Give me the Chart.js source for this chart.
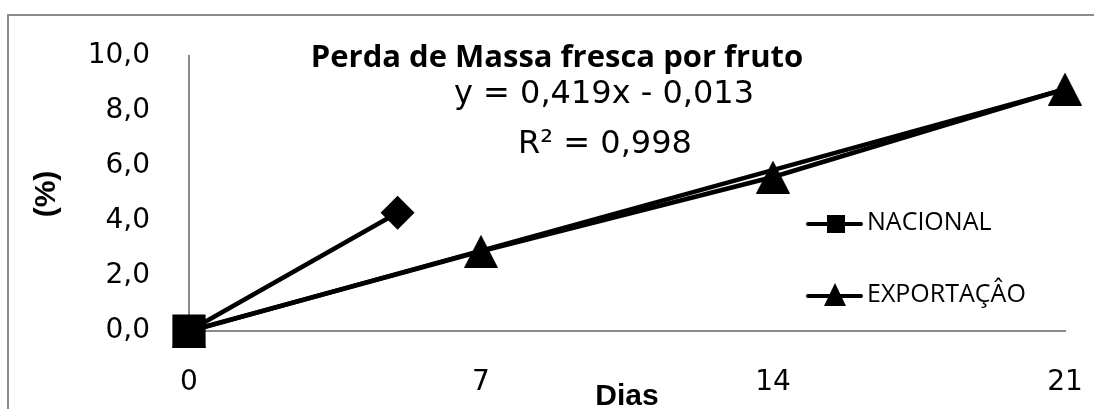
<!DOCTYPE html>
<html>
<head>
<meta charset="utf-8">
<script src="https://cdn.jsdelivr.net/npm/chart.js@4/dist/chart.umd.min.js"></script>
<style>
  html, body { margin: 0; padding: 0; background: #fff; overflow: hidden; }
  #wrap { position: relative; width: 1094px; height: 409px; }
  #frame { position: absolute; left: 7px; top: 14px; width: 1200px; height: 500px; border: 2px solid #8c8c8c; box-sizing: border-box; }
  canvas { position: absolute; left: 0; top: 0; }
</style>
</head>
<body>
<div id="wrap">
  <div id="frame"></div>
  <canvas id="c" width="1094" height="409"></canvas>
</div>
<script>
// ---- data ----
const days = [0, 7, 14, 21];
const exportacao = [0.0, 2.9, 5.6, 8.8];
const nacionalDays = [0];
const nacional = [0.0];
const extraDays = [0, 5];
const extraValues = [0.0, 4.3];
const trendDays = [0, 21];
const trendValues = [-0.013, 8.786];
const xTickValues = [0, 7, 14, 21];
const yTickValues = [0, 2, 4, 6, 8, 10];

const seriesNames = ['NACIONAL', 'EXPORTAÇÂO'];
const chartTitle = 'Perda de Massa fresca por fruto';
const eqText = 'y = 0,419x - 0,013';
const r2Text = 'R² = 0,998';
const xTitle = 'Dias';
const yTitle = '(%)';

function pts(xs, ys) { return xs.map((x, i) => ({ x: x, y: ys[i] })); }

function triCanvas(w, h) {
  const c = document.createElement('canvas');
  c.width = w; c.height = h;
  const g = c.getContext('2d');
  g.fillStyle = '#000';
  g.beginPath();
  g.moveTo(w / 2, 0);
  g.lineTo(w, h);
  g.lineTo(0, h);
  g.closePath();
  g.fill();
  return c;
}
const bigTri = triCanvas(34, 33);

const overlay = {
  id: 'overlay',
  afterDraw(chart) {
    const ctx = chart.ctx;
    ctx.save();
    ctx.fillStyle = '#000';
    // title
    ctx.font = 'bold 31px "Open Sans"';
    ctx.textAlign = 'center';
    ctx.textBaseline = 'alphabetic';
    ctx.fillText(chartTitle, 557, 67);
    // equation + r2
    ctx.font = '32px "DejaVu Sans"';
    ctx.fillText(eqText, 604, 103);
    ctx.fillText(r2Text, 605, 153);
    // axis titles
    ctx.font = 'bold 30px "Liberation Sans"';
    ctx.fillText(xTitle, 627, 405);
    ctx.save();
    ctx.translate(47, 194);
    ctx.rotate(-Math.PI / 2);
    ctx.textBaseline = 'middle';
    ctx.fillText(yTitle, 0, 0);
    ctx.restore();
    // legend
    const legY = [224, 296];
    ctx.strokeStyle = '#000';
    ctx.lineWidth = 4;
    ctx.lineCap = 'round';
    ctx.font = '25px "Open Sans"';
    ctx.textAlign = 'left';
    ctx.textBaseline = 'middle';
    for (let i = 0; i < 2; i++) {
      const y = legY[i];
      ctx.beginPath();
      ctx.moveTo(808, y); ctx.lineTo(861, y); ctx.stroke();
      if (i === 0) {
        ctx.fillRect(827, y - 9, 18, 18);
      } else {
        ctx.beginPath();
        ctx.moveTo(835, y - 13); ctx.lineTo(846, y + 10); ctx.lineTo(824, y + 10); ctx.closePath(); ctx.fill();
      }
      ctx.fillText(seriesNames[i], 867, y - 1);
    }
    ctx.restore();
  }
};

Chart.defaults.font.family = '"DejaVu Sans"';
Chart.defaults.color = '#000';

new Chart(document.getElementById('c'), {
  type: 'scatter',
  data: {
    datasets: [
      {
        label: seriesNames[0],
        data: pts(nacionalDays, nacional),
        showLine: true,
        borderColor: '#000', backgroundColor: '#000', borderWidth: 4.5,
        pointStyle: 'rect', pointRadius: 23.5, pointBorderWidth: 0,
        clip: false, order: 0
      },
      {
        label: seriesNames[1],
        data: pts(days, exportacao),
        showLine: true,
        borderColor: '#000', backgroundColor: '#000', borderWidth: 4.5,
        pointStyle: bigTri, pointRadius: 17, pointBorderWidth: 0,
        clip: false, order: 2
      },
      {
        label: 'extra',
        data: pts(extraDays, extraValues),
        showLine: true,
        borderColor: '#000', backgroundColor: '#000', borderWidth: 4.5,
        pointStyle: 'rectRot', pointRadius: [0, 17], pointBorderWidth: 0,
        clip: false, order: 1
      },
      {
        label: 'trend',
        data: pts(trendDays, trendValues),
        showLine: true,
        borderColor: '#000', borderWidth: 4.5,
        pointRadius: 0,
        clip: false, order: 3
      }
    ]
  },
  options: {
    responsive: false,
    animation: false,
    devicePixelRatio: 1,
    layout: { padding: { top: 56, right: 29, bottom: 0, left: 0 } },
    plugins: { legend: { display: false }, tooltip: { enabled: false }, title: { display: false } },
    scales: {
      x: {
        type: 'linear', min: 0, max: 21,
        afterBuildTicks(s) { s.ticks = xTickValues.map(v => ({ value: v })); },
        afterFit(s) { s.height = 78; s.paddingLeft = 0; s.paddingRight = 0; },
        grid: { display: false, drawTicks: false },
        border: { color: '#8a8a8a', width: 2 },
        ticks: { font: { size: 28 }, padding: 35, color: '#000' }
      },
      y: {
        min: 0, max: 10,
        afterBuildTicks(s) { s.ticks = yTickValues.map(v => ({ value: v })); },
        afterFit(s) { s.width = 189; s.paddingTop = 0; s.paddingBottom = 0; },
        grid: { display: false, drawTicks: false },
        border: { color: '#8a8a8a', width: 2 },
        ticks: {
          font: { size: 28 }, padding: 39, color: '#000',
          callback: v => v.toFixed(1).replace('.', ',')
        }
      }
    }
  },
  plugins: [overlay]
});
</script>
</body>
</html>
